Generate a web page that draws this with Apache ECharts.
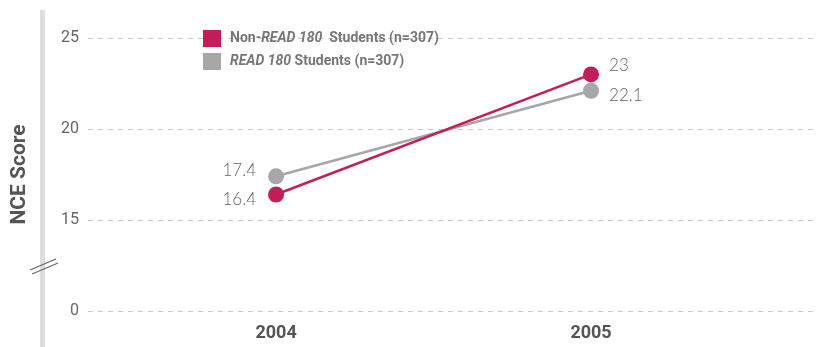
<!DOCTYPE html>
<html><head><meta charset="utf-8">
<script src="https://cdn.jsdelivr.net/npm/echarts@6/dist/echarts.min.js"></script>
<style>html,body{margin:0;padding:0;background:#fff}#c{width:823px;height:347px}</style>
</head><body><div id="c"></div>
<script>
const years = [2004, 2005];
const nonRead = [16.4, 23];
const read180 = [17.4, 22.1];
const yTicks = [10, 15, 20, 25];
const yTickLabels = ['0', '15', '20', '25'];
const seriesNames = ['Non-READ 180 Students (n=307)', 'READ 180 Students (n=307)'];

const chart = echarts.init(document.getElementById('c'));
const red = '#C41E5A', gray = '#A7A7A9';
const ff = 'Roboto, sans-serif';
function mk(v, offs){
  return years.map((y,i)=>({value:[y, v[i]], label:{position: i===0?'left':'right', distance: i===0?12:10, offset:[0, offs[i]]}}));
}
chart.setOption({
  animation:false,
  grid:{left:88, right:8, top:38, bottom:36},
  legend:{
    orient:'vertical', left:198, top:25, itemWidth:18, itemHeight:17, itemGap:6,
    icon:'rect',
    data:[{name:seriesNames[0]},{name:seriesNames[1]}],
    formatter: function(n){
      if(n===seriesNames[0]) return '{sp|}{b|Non-}{i|READ 180}{b|  Students (n=307)}';
      return '{sp|}{i|READ 180}{b| Students (n=307)}';
    },
    textStyle:{
      color:'#777', fontSize:14, fontWeight:'bold', fontFamily:ff,
      rich:{
        sp:{width:4},
        b:{color:'#777', fontSize:14, fontWeight:'bold', fontFamily:ff},
        i:{color:'#777', fontSize:14, fontWeight:'bold', fontStyle:'italic', fontFamily:ff}
      }
    }
  },
  xAxis:{
    type:'value', min:2003.403, max:2005.711,
    axisLine:{show:false}, axisTick:{show:false}, splitLine:{show:false},
    axisLabel:{customValues:years, formatter:v=>String(Math.round(v)), color:'#555', fontSize:18, fontWeight:'bold',
      fontFamily:ff, margin:13}
  },
  yAxis:{
    type:'value', min:10, max:25, interval:5,
    name:'NCE Score', nameLocation:'middle', nameGap:58, nameRotate:90,
    nameTextStyle:{color:'#555', fontSize:21, fontWeight:'bold', fontFamily:ff},
    axisLine:{show:false}, axisTick:{show:false},
    axisLabel:{formatter:v=>yTickLabels[yTicks.indexOf(v)] ?? '', color:'#666', fontSize:16, margin:9,
      fontFamily:ff},
    splitLine:{lineStyle:{color:'#c8c8c8', type:[5,5], width:1}}
  },
  graphic:[
    {type:'rect', shape:{x:40,y:10,width:5,height:337}, style:{fill:'#dedede'}, z:1},
    {type:'line', shape:{x1:30,y1:270,x2:56,y2:259}, style:{stroke:'#666', lineWidth:1.2}, z:2},
    {type:'line', shape:{x1:32,y1:274,x2:58,y2:263}, style:{stroke:'#666', lineWidth:1.2}, z:2}
  ],
  series:[
    {name:seriesNames[1], type:'line', data:mk(read180, [-6, 5]), color:gray, symbol:'circle', symbolSize:16,
      lineStyle:{width:2.5,color:gray}, itemStyle:{color:gray},
      label:{show:true, formatter:p=>String(p.value[1]),
        color:'#666', fontSize:17, fontFamily:'Lato, sans-serif', fontWeight:300},
      z:2},
    {name:seriesNames[0], type:'line', data:mk(nonRead, [5, -9]), color:red, symbol:'circle', symbolSize:16,
      lineStyle:{width:2.5,color:red}, itemStyle:{color:red},
      label:{show:true, formatter:p=>String(p.value[1]),
        color:'#666', fontSize:17, fontFamily:'Lato, sans-serif', fontWeight:300},
      z:3}
  ]
});
</script></body></html>
